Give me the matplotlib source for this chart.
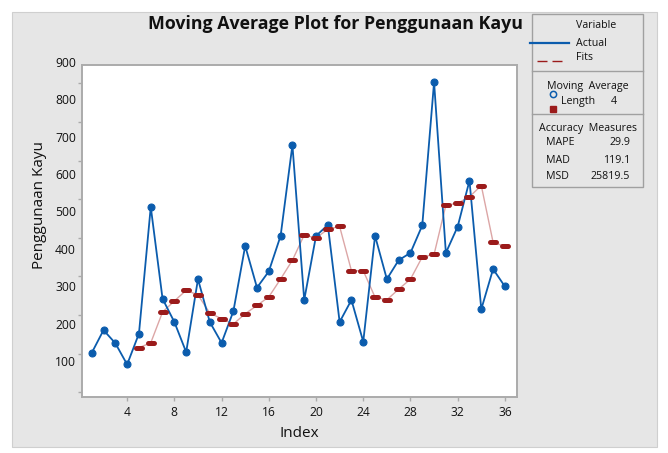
import matplotlib.pyplot as plt
from matplotlib.markers import MarkerStyle
from matplotlib.patches import Rectangle
from matplotlib.lines import Line2D
from matplotlib.transforms import Affine2D, ScaledTranslation

# data
index = list(range(1, 37))
actual = [202, 261, 227, 172, 252, 580, 342, 282, 204, 393, 282, 228,
          310, 479, 371, 413, 505, 740, 339, 505, 533, 282, 339, 231,
          505, 393, 442, 461, 532, 903, 461, 529, 648, 315, 419, 374]
fit_index = list(range(5, 37))
fits = [215.5, 228.0, 307.8, 336.5, 364.0, 352.0, 305.3, 290.3, 276.8,
        303.3, 324.8, 347.0, 393.3, 442.0, 507.3, 499.3, 522.3, 529.3,
        414.8, 414.8, 346.3, 339.3, 367.0, 392.8, 450.3, 457.0, 584.5,
        589.3, 606.3, 635.3, 488.3, 477.8]
ma_length = 4
measure_names = ["MAPE", "MAD", "MSD"]
measure_values = ["29.9", "119.1", "25819.5"]
x_ticks = [4, 8, 12, 16, 20, 24, 28, 32, 36]
y_ticks = [100, 200, 300, 400, 500, 600, 700, 800, 900]

BLUE = "#0b5cad"
RED = "#9b1b1b"
PINK = "#dca6a6"
GREY_BG = "#e6e6e6"
FRAME = "#ababab"
TXT = "#111111"

plt.rcParams["font.family"] = ["Open Sans", "DejaVu Sans"]

W, H = 668, 453
fig = plt.figure(figsize=(W / 100, H / 100), dpi=100, facecolor="white")
# pixel coordinates measured from the top-left corner
T = Affine2D().scale(1 / W, -1 / H).translate(0, 1) + fig.transFigure

fig.patches.append(Rectangle((12, 12), 645, 435, transform=T, facecolor=GREY_BG,
                             edgecolor="#cfcfcf", lw=0.8, zorder=-5))

ax = fig.add_axes([81.7 / W, 1 - 396.7 / H, 435 / W, 331.4 / H])
ax.set_facecolor("white")

ax.plot(fit_index, fits, color=PINK, lw=1.0, zorder=2)
ax.plot(index, actual, color=BLUE, lw=1.3, marker="o", ms=5.0, mew=0.8,
        zorder=3)
ax.plot(fit_index, fits, ls="none", color=RED, zorder=4,
        marker=MarkerStyle("_", capstyle="round"), ms=4.8, mew=3.6)

ax.set_xlim(0.15, 37.0)
ax.set_ylim(88.6, 946.6)
ax.set_xticks(x_ticks)
ax.set_yticks(y_ticks)
ax.set_yticklabels([])
ax.tick_params(axis="both", direction="out", length=3, width=1, color=FRAME,
               labelsize=8.7, labelcolor=TXT)
ax.tick_params(axis="x", pad=4)
for s in ax.spines.values():
    s.set_color(FRAME)
    s.set_linewidth(1.4)

# y tick labels sit a bit above their ticks in the original export
for v in y_ticks:
    shift = 29.6 - (v - 100) / 800 * 9.6
    ax.text(-0.013, v, str(v), ha="right", va="center", fontsize=8.7,
            color=TXT, transform=ax.get_yaxis_transform()
            + ScaledTranslation(0, shift / 100, fig.dpi_scale_trans))

ax.set_xlabel("Index", fontsize=11, color=TXT)
ax.set_ylabel("Penggunaan Kayu", fontsize=11, color=TXT)
ax.xaxis.set_label_coords(0.5, -0.088)
ax.yaxis.set_label_coords(-0.08, 0.578)

fig.text(336, 24, "Moving Average Plot for Penggunaan Kayu", transform=T,
         ha="center", va="center", fontsize=12.8, fontweight="bold", color=TXT)

# legend / summary panel on the right
fig.patches.append(Rectangle((531.7, 13.5), 111.6, 173.2, transform=T,
                             facecolor=GREY_BG, edgecolor="#a0a0a0", lw=1))
for yy in (70.7, 114.3):
    fig.lines.append(Line2D([531.7, 643.3], [yy, yy], transform=T,
                            color="#a0a0a0", lw=1))

fs = 7.7
fig.text(596, 26, "Variable", transform=T, ha="center", va="center",
         fontsize=fs, color=TXT)
fig.lines.append(Line2D([530, 569], [43.3, 43.3], transform=T, color=BLUE,
                        lw=1.6))
fig.text(576, 43, "Actual", transform=T, ha="left", va="center", fontsize=fs,
         color=TXT)
fig.lines.append(Line2D([537, 562], [60.5, 60.5], transform=T, color=RED,
                        lw=1.0, dashes=[7.2, 3.6]))
fig.text(576, 58, "Fits", transform=T, ha="left", va="center", fontsize=fs,
         color=TXT)

fig.text(546.7, 86.7, "Moving  Average", transform=T, ha="left", va="center",
         fontsize=fs, color=TXT)
fig.lines.append(Line2D([552.7], [94.3], transform=T, ls="none", marker="o",
                        ms=4.5, mfc="none", mec=BLUE, mew=1.1))
fig.text(560.7, 101.7, "Length", transform=T, ha="left", va="center",
         fontsize=fs, color=TXT)
fig.text(611, 101.7, str(ma_length), transform=T, ha="left", va="center",
         fontsize=fs, color=TXT)
fig.lines.append(Line2D([552.7], [109.3], transform=T, ls="none", marker="s",
                        ms=5, color=RED))

fig.text(539.3, 129, "Accuracy  Measures", transform=T, ha="left",
         va="center", fontsize=fs, color=TXT)
for name, val, yy in zip(measure_names, measure_values, (142.7, 160.7, 176.7)):
    fig.text(546, yy, name, transform=T, ha="left", va="center", fontsize=fs,
             color=TXT)
    fig.text(630, yy, val, transform=T, ha="right", va="center", fontsize=fs,
             color=TXT)

fig.savefig("out.png", dpi=100, facecolor="white")
